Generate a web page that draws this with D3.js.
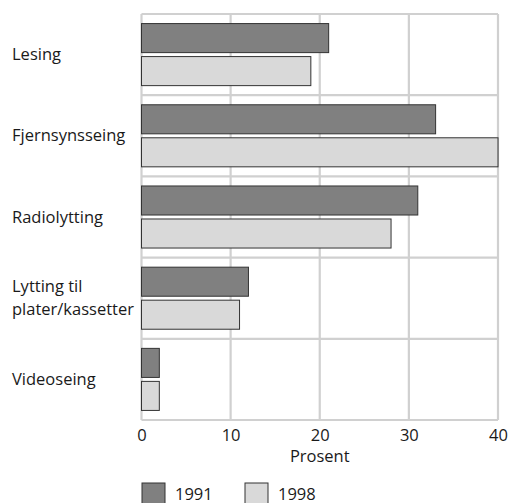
<!DOCTYPE html>
<html>
<head>
<meta charset="utf-8">
<script src="https://cdn.jsdelivr.net/npm/d3@7"></script>
<style>
  body { margin: 0; background: #fff; }
  text { font-family: "Open Sans", sans-serif; fill: #1a1a1a; }
</style>
</head>
<body>
<svg id="chart" width="509" height="503"></svg>
<script>
// categories (some labels break over two lines)
var categories = ["Lesing", "Fjernsynsseing", "Radiolytting", "Lytting til\nplater/kassetter", "Videoseing"];
var years = ["1991", "1998"];
var values1991 = [21, 33, 31, 12, 2];
var values1998 = [19, 40, 28, 11, 2];
var xTicks = [0, 10, 20, 30, 40];
var colors = ["#808080", "#d9d9d9"];

var fs = 16.5;
var svg = d3.select("#chart");

var x = d3.scaleLinear().domain([0, 40]).range([141.5, 498]);
var y = d3.scaleBand().domain(categories).range([14, 420]);
var inner = d3.scaleBand().domain(years).range([0, y.step()])
  .paddingInner(0.12).paddingOuter(0.29);

// grid
svg.append("g").selectAll("line.v").data(xTicks).enter().append("line")
  .attr("x1", function(d){ return x(d); })
  .attr("x2", function(d){ return x(d); })
  .attr("y1", 14).attr("y2", 420)
  .attr("stroke", "#d0d0d0").attr("stroke-width", 2.2);

var bounds = categories.map(function(c){ return y(c); }).concat([y.range()[1]]);
svg.append("g").selectAll("line.h").data(bounds).enter().append("line")
  .attr("x1", x(0)).attr("x2", x(40))
  .attr("y1", function(d){ return d; })
  .attr("y2", function(d){ return d; })
  .attr("stroke", "#d0d0d0").attr("stroke-width", 2.2);

// bars
var rows = categories.map(function(c, i){
  return [{cat:c, year:"1991", v:values1991[i]}, {cat:c, year:"1998", v:values1998[i]}];
});
svg.append("g").selectAll("rect").data(d3.merge(rows)).enter().append("rect")
  .attr("x", x(0))
  .attr("y", function(d){ return y(d.cat) + inner(d.year); })
  .attr("width", function(d){ return x(d.v) - x(0); })
  .attr("height", inner.bandwidth())
  .attr("fill", function(d){ return d.year == "1991" ? colors[0] : colors[1]; })
  .attr("stroke", "#333").attr("stroke-width", 1);

// category labels
var lab = svg.append("g").selectAll("text").data(categories).enter().append("text")
  .attr("x", 12)
  .attr("font-size", fs);
lab.each(function(d){
  var lines = d.split("\n");
  var cy = y(d) + y.bandwidth() / 2;
  var lh = 23.5;
  var t = d3.select(this);
  lines.forEach(function(l, j){
    t.append("tspan").attr("x", 12)
      .attr("y", cy + 5.5 + (j - (lines.length - 1) / 2) * lh)
      .text(l);
  });
});

// x axis
var axis = svg.append("g").attr("transform", "translate(0,420)")
  .call(d3.axisBottom(x).tickValues(xTicks).tickSize(0).tickPadding(9));
axis.select(".domain").remove();
axis.selectAll("text").attr("font-size", fs).attr("font-family", "Open Sans, sans-serif").attr("fill", "#1a1a1a");

svg.append("text").attr("x", x(20)).attr("y", 461.5)
  .attr("text-anchor", "middle").attr("font-size", fs).text("Prosent");

// legend
var leg = svg.append("g").selectAll("g").data(years).enter().append("g")
  .attr("transform", function(d, i){ return "translate(" + (142 + i * 103) + ",483)"; });
leg.append("rect").attr("width", 23).attr("height", 22)
  .attr("fill", function(d, i){ return colors[i]; })
  .attr("stroke", "#333").attr("stroke-width", 1);
leg.append("text").attr("x", 33).attr("y", 16.5).attr("font-size", fs)
  .text(function(d){ return d; });
</script>
</body>
</html>
